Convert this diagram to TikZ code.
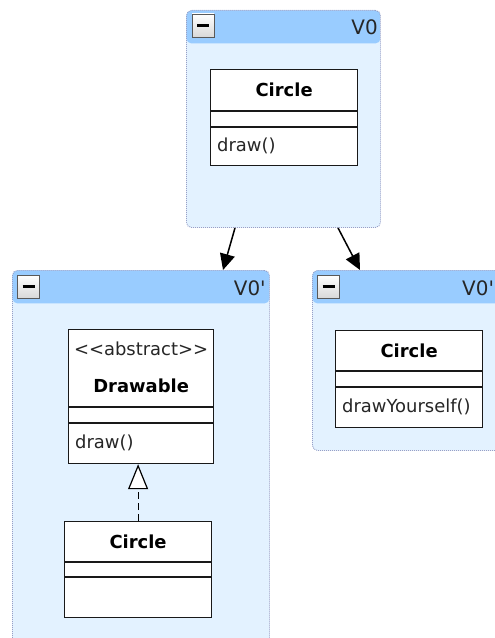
\documentclass[tikz,border=0pt]{standalone}
\usepackage{fontspec}
\setmainfont{DejaVu Sans}[Ligatures=TeXOff]
\usetikzlibrary{arrows.meta}
\definecolor{hdr}{RGB}{153,204,255}
\definecolor{pkgbody}{RGB}{227,242,255}
\definecolor{pkgframe}{RGB}{150,160,200}
\begin{document}
\begin{tikzpicture}[x=1bp,y=-1bp,
  pkg/.style={draw=pkgframe, line width=0.9bp, dash pattern=on 1bp off 1bp,
    fill=pkgbody, rounded corners=5bp, inner sep=0pt, anchor=north west,
    path picture={\fill[hdr] (path picture bounding box.north west)
      rectangle ([yshift=-33bp]path picture bounding box.north east);}},
  btn/.style={draw=gray!70!black, line width=0.9bp, top color=white,
    bottom color=gray!30, minimum width=22bp, minimum height=23bp, inner sep=0pt},
  minus/.style={line width=3.5bp},
  pkglabel/.style={inner sep=0pt, font=\fontsize{20}{24}\selectfont, text=black!85},
  cls/.style={draw=black!90, line width=1.2bp, fill=white, inner sep=0pt,
    anchor=north west, minimum width=147bp},
  divider/.style={draw=black!90, line width=1.2bp},
  ctitle/.style={inner sep=0pt, font=\fontsize{18}{22}\selectfont\bfseries},
  ctext/.style={inner sep=0pt, font=\fontsize{18}{22}\selectfont, text=black!85},
  nest/.style={-{Triangle[length=16bp,width=15bp]}, line width=1.5bp},
  realize/.style={-{Triangle[open,length=25bp,width=20bp,fill=white]},
    line width=1.2bp, dash pattern=on 7bp off 4bp}
]
\path[use as bounding box] (0,0) rectangle (495,638);
\clip (0,0) rectangle (495,638);

% package containers
\node[pkg, minimum width=194bp, minimum height=217bp] (v0) at (186,10) {};
\node[pkg, minimum width=257bp, minimum height=420bp] (v0l) at (12,270) {};
\node[pkg, minimum width=220bp, minimum height=180bp] (v0r) at (312,270) {};

% collapse buttons
\node[btn] (b0) at (203,25.5) {};
\draw[minus] ([xshift=-6bp]b0.center) -- ([xshift=6bp]b0.center);
\node[btn] (bl) at (28.5,286.5) {};
\draw[minus] ([xshift=-6bp]bl.center) -- ([xshift=6bp]bl.center);
\node[btn] (br) at (328.5,286.5) {};
\draw[minus] ([xshift=-6bp]br.center) -- ([xshift=6bp]br.center);

% package names
\node[pkglabel, anchor=base east] (n0) at ([xshift=-3bp,yshift=-25bp]v0.north east) {V0};
\node[pkglabel, anchor=base east] (nl) at ([xshift=-4bp,yshift=-25bp]v0l.north east) {V0'};
\node[pkglabel, anchor=base west] (nr) at ([xshift=150bp,yshift=-25bp]v0r.north west) {V0'};

% class Circle in V0
\node[cls, minimum height=96bp] (c0) at (210,69) {};
\draw[divider] ([yshift=-42bp]c0.north west) -- ([yshift=-42bp]c0.north east);
\draw[divider] ([yshift=-58bp]c0.north west) -- ([yshift=-58bp]c0.north east);
\node[ctitle] (c0t) at ([yshift=-21bp]c0.north) {Circle};
\node[ctext, anchor=west] (c0o) at ([xshift=7bp,yshift=-77bp]c0.north west) {draw()};

% class Circle in the right V0'
\node[cls, minimum height=97bp] (cr) at (335,330) {};
\draw[divider] ([yshift=-41bp]cr.north west) -- ([yshift=-41bp]cr.north east);
\draw[divider] ([yshift=-57bp]cr.north west) -- ([yshift=-57bp]cr.north east);
\node[ctitle] (crt) at ([yshift=-21bp]cr.north) {Circle};
\node[ctext, anchor=west] (cro) at ([xshift=7bp,yshift=-77bp]cr.north west) {drawYourself()};

% abstract class Drawable
\node[cls, minimum width=145bp, minimum height=134bp] (dr) at (68,329) {};
\draw[divider] ([yshift=-78bp]dr.north west) -- ([yshift=-78bp]dr.north east);
\draw[divider] ([yshift=-94bp]dr.north west) -- ([yshift=-94bp]dr.north east);
\node[ctext] (drs) at ([yshift=-20bp]dr.north) {{<}{<}abstract{>}{>}};
\node[ctitle] (drt) at ([yshift=-57bp]dr.north) {Drawable};
\node[ctext, anchor=west] (dro) at ([xshift=7bp,yshift=-114bp]dr.north west) {draw()};

% class Circle realizing Drawable
\node[cls, minimum height=96bp] (cl) at (64,521) {};
\draw[divider] ([yshift=-41bp]cl.north west) -- ([yshift=-41bp]cl.north east);
\draw[divider] ([yshift=-56bp]cl.north west) -- ([yshift=-56bp]cl.north east);
\node[ctitle] (clt) at ([yshift=-21bp]cl.north) {Circle};

% connectors
\draw[realize] (cl.north) -- (cl.north |- dr.south);
\draw[nest] ([xshift=49bp]v0.south west) -- ([xshift=211bp]v0l.north west);
\draw[nest] ([xshift=152bp]v0.south west) -- ([xshift=48bp]v0r.north west);
\end{tikzpicture}
\end{document}
